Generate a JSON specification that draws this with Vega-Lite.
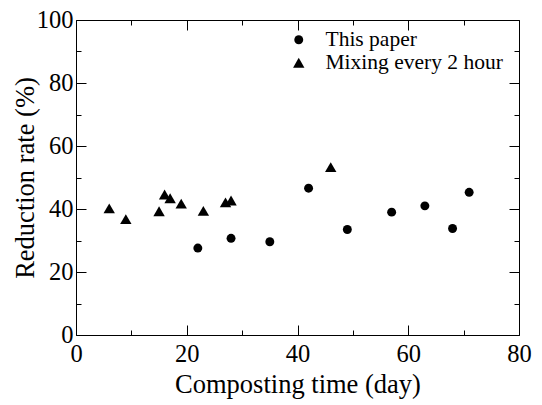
{
  "$schema": "https://vega.github.io/schema/vega-lite/v6.json",
  "width": 443,
  "height": 315,
  "autosize": "none",
  "padding": {"left": 76, "top": 20, "right": 23, "bottom": 70},
  "background": "white",
  "config": {
    "view": {"stroke": "black", "strokeWidth": 1},
    "font": "Liberation Serif",
    "axis": {
      "domain": false,
      "grid": false,
      "labelFont": "Liberation Serif",
      "labelFontSize": 24.5,
      "labelColor": "black",
      "labelFlush": false,
      "labelOverlap": false,
      "labelBound": false,
      "titleFont": "Liberation Serif",
      "titleFontSize": 26.5,
      "titleFontWeight": "normal",
      "titleColor": "black",
      "tickColor": "black",
      "tickWidth": 1
    }
  },
  "data": {
    "values": [
      {"day": 22, "rate": 27.6, "series": "This paper"},
      {"day": 28, "rate": 30.7, "series": "This paper"},
      {"day": 35, "rate": 29.6, "series": "This paper"},
      {"day": 42, "rate": 46.6, "series": "This paper"},
      {"day": 49, "rate": 33.5, "series": "This paper"},
      {"day": 57, "rate": 39.0, "series": "This paper"},
      {"day": 63, "rate": 41.0, "series": "This paper"},
      {"day": 68, "rate": 33.8, "series": "This paper"},
      {"day": 71, "rate": 45.3, "series": "This paper"},
      {"day": 6, "rate": 40.2, "series": "Mixing every 2 hour"},
      {"day": 9, "rate": 36.8, "series": "Mixing every 2 hour"},
      {"day": 15, "rate": 39.3, "series": "Mixing every 2 hour"},
      {"day": 16, "rate": 44.6, "series": "Mixing every 2 hour"},
      {"day": 17, "rate": 43.4, "series": "Mixing every 2 hour"},
      {"day": 19, "rate": 41.7, "series": "Mixing every 2 hour"},
      {"day": 23, "rate": 39.4, "series": "Mixing every 2 hour"},
      {"day": 27, "rate": 42.1, "series": "Mixing every 2 hour"},
      {"day": 28, "rate": 42.7, "series": "Mixing every 2 hour"},
      {"day": 46, "rate": 53.3, "series": "Mixing every 2 hour"}
    ]
  },
  "layer": [
    {
      "mark": {"type": "point", "filled": true, "opacity": 1, "color": "black"},
      "encoding": {
        "x": {
          "field": "day", "type": "quantitative",
          "scale": {"domain": [0, 80], "nice": false, "zero": false},
          "axis": {"orient": "bottom", "values": [0, 20, 40, 60, 80], "ticks": false, "labelPadding": 7,
                   "title": "Composting time (day)", "titleBaseline": "alphabetic", "titleY": 57}
        },
        "y": {
          "field": "rate", "type": "quantitative",
          "scale": {"domain": [0, 100], "nice": false, "zero": false},
          "axis": {"orient": "left", "values": [0, 20, 40, 60, 80, 100], "ticks": false, "labelPadding": 3,
                   "title": "Reduction rate (%)", "titleBaseline": "middle", "titleX": -51}
        },
        "shape": {
          "field": "series", "type": "nominal",
          "scale": {"domain": ["This paper", "Mixing every 2 hour"], "range": ["circle", "triangle-up"]},
          "legend": {
            "title": null, "orient": "none", "legendX": 212, "legendY": 9,
            "labelFont": "Liberation Serif", "labelFontSize": 21.5, "labelColor": "black",
            "labelOffset": 16, "rowPadding": 0, "padding": 0,
            "symbolFillColor": "black", "symbolStrokeColor": "black", "symbolStrokeWidth": 0, "labelLimit": 400
          }
        },
        "size": {
          "field": "series", "type": "nominal",
          "scale": {"domain": ["This paper", "Mixing every 2 hour"], "range": [80, 130]},
          "legend": {
            "title": null, "orient": "none", "legendX": 212, "legendY": 9,
            "labelFont": "Liberation Serif", "labelFontSize": 21.5, "labelColor": "black",
            "labelOffset": 16, "rowPadding": 0, "padding": 0,
            "symbolFillColor": "black", "symbolStrokeColor": "black", "symbolStrokeWidth": 0, "labelLimit": 400
          }
        }
      }
    },
    {
      "mark": {"type": "point", "opacity": 0},
      "encoding": {
        "x": {"field": "day", "type": "quantitative",
              "axis": {"orient": "bottom", "values": [0, 20, 40, 60, 80], "labels": false, "tickSize": -10, "title": null}},
        "y": {"field": "rate", "type": "quantitative",
              "axis": {"orient": "left", "values": [0, 20, 40, 60, 80, 100], "labels": false, "tickSize": -10, "title": null}}
      }
    },
    {
      "mark": {"type": "point", "opacity": 0},
      "encoding": {
        "x": {"field": "day", "type": "quantitative",
              "axis": {"orient": "bottom", "values": [10, 30, 50, 70], "labels": false, "tickSize": -5, "title": null}},
        "y": {"field": "rate", "type": "quantitative",
              "axis": {"orient": "left", "values": [10, 30, 50, 70, 90], "labels": false, "tickSize": -5, "title": null}}
      }
    },
    {
      "mark": {"type": "point", "opacity": 0},
      "encoding": {
        "x": {"field": "day", "type": "quantitative",
              "axis": {"orient": "top", "values": [0, 20, 40, 60, 80], "labels": false, "tickSize": -10, "title": null}},
        "y": {"field": "rate", "type": "quantitative",
              "axis": {"orient": "right", "values": [0, 20, 40, 60, 80, 100], "labels": false, "tickSize": -10, "title": null}}
      }
    },
    {
      "mark": {"type": "point", "opacity": 0},
      "encoding": {
        "x": {"field": "day", "type": "quantitative",
              "axis": {"orient": "top", "values": [10, 30, 50, 70], "labels": false, "tickSize": -5, "title": null}},
        "y": {"field": "rate", "type": "quantitative",
              "axis": {"orient": "right", "values": [10, 30, 50, 70, 90], "labels": false, "tickSize": -5, "title": null}}
      }
    }
  ],
  "resolve": {"axis": {"x": "independent", "y": "independent"}}
}
